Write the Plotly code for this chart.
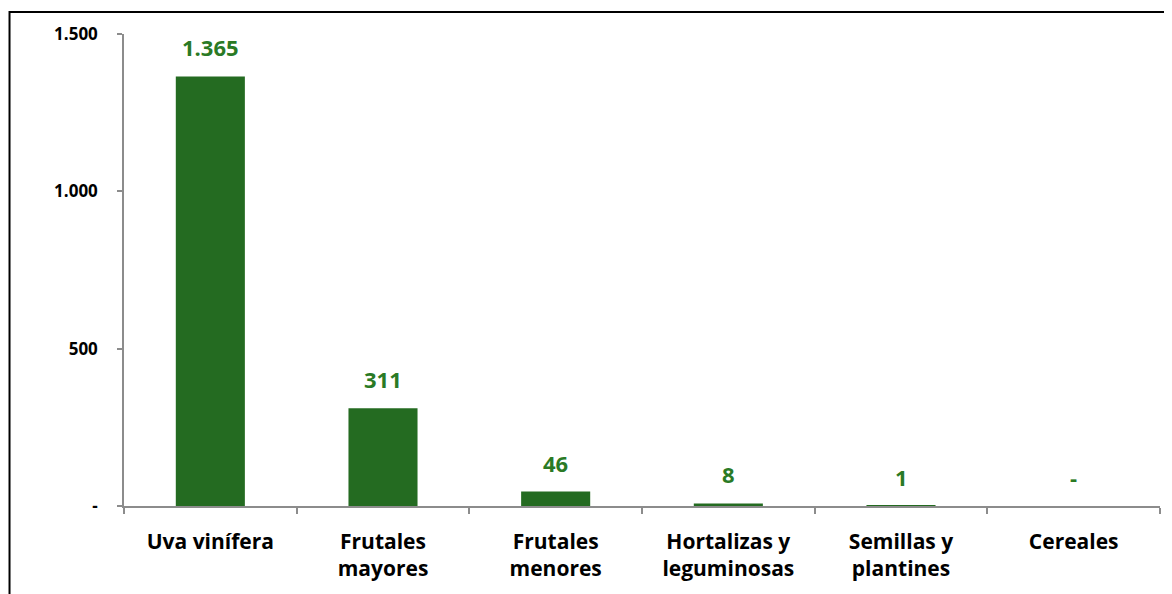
import plotly.graph_objects as go

# superficie por tipo de cultivo
categorias = ['Uva vinífera', 'Frutales<br>mayores', 'Frutales<br>menores',
              'Hortalizas y<br>leguminosas', 'Semillas y<br>plantines', 'Cereales']
valores = [1365, 311, 46, 8, 1, 0]
etiquetas = ['1.365', '311', '46', '8', '1', '-']

y_ticks = [0, 500, 1000, 1500]
y_ticktext = ['-', '500', '1.000', '1.500']

verde_barra = '#246B21'
verde_texto = '#2A7A25'
fuente = 'Open Sans'

fig = go.Figure()
fig.add_trace(go.Bar(
    x=categorias,
    y=valores,
    marker=dict(color=verde_barra, line=dict(width=0)),
    width=0.4,
    hoverinfo='skip',
))

# etiquetas de datos sobre cada barra
for cat, val, txt in zip(categorias, valores, etiquetas):
    fig.add_annotation(
        x=cat, y=val, text='<b>%s</b>' % txt,
        showarrow=False, yanchor='bottom', yshift=12,
        font=dict(family=fuente, size=22, color=verde_texto),
    )

# marco exterior del grafico
fig.add_shape(
    type='rect', xref='paper', yref='paper',
    x0=-0.1105, x1=1.03, y0=-0.3, y1=1.0464,
    line=dict(color='black', width=2),
)

# el navegador deja 8px de margen en el body
fig.update_layout(
    width=1164, height=586,
    margin=dict(l=116, r=12, t=26, b=86),
    plot_bgcolor='white', paper_bgcolor='white',
    showlegend=False,
    font=dict(family=fuente, color='black'),
    bargap=0.6,
)
fig.update_xaxes(
    showline=True, linecolor='#8C8C8C', linewidth=1.5,
    ticks='outside', tickson='boundaries', ticklen=6, tickcolor='#8C8C8C',
    tickwidth=1.5,
    tickfont=dict(family=fuente, size=21, color='black'),
    tickprefix='<b>', ticksuffix='</b>',
    ticklabelstandoff=16,
    showgrid=False,
)
fig.update_yaxes(
    range=[0, 1500],
    tickvals=y_ticks, ticktext=['<b>%s</b>' % t for t in y_ticktext],
    showline=True, linecolor='#8C8C8C', linewidth=1.5,
    ticks='outside', ticklen=5, tickcolor='#8C8C8C', tickwidth=1.5,
    tickfont=dict(family=fuente, size=17, color='black'),
    ticklabelstandoff=16,
    showgrid=False, zeroline=False,
)

fig.write_html('out.html')
